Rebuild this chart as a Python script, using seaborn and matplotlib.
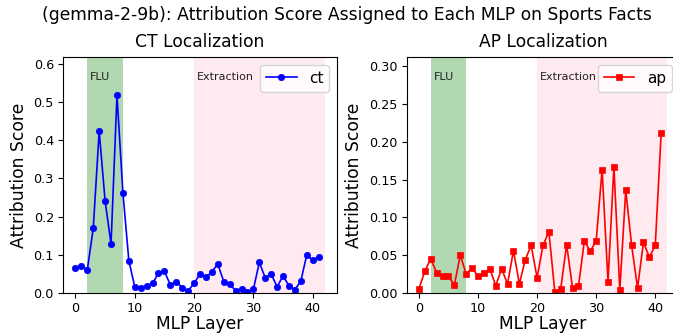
import matplotlib
matplotlib.use("Agg")
import matplotlib.pyplot as plt
import matplotlib.transforms as mtransforms
import seaborn as sns
import numpy as np
import pandas as pd

layers = list(range(42))
ct_scores = [0.065, 0.072, 0.061, 0.169, 0.424, 0.241, 0.128, 0.518, 0.263, 0.085,
             0.016, 0.014, 0.018, 0.025, 0.052, 0.057, 0.021, 0.030, 0.014, 0.006,
             0.025, 0.050, 0.041, 0.055, 0.076, 0.030, 0.024, 0.006, 0.010, 0.002,
             0.010, 0.080, 0.040, 0.050, 0.016, 0.045, 0.019, 0.009, 0.031, 0.100,
             0.086, 0.094]
ap_scores = [0.0053, 0.029, 0.045, 0.027, 0.022, 0.022, 0.0106, 0.050, 0.025, 0.033,
             0.022, 0.026, 0.032, 0.0097, 0.032, 0.012, 0.056, 0.012, 0.044, 0.063,
             0.020, 0.063, 0.081, 0.0013, 0.0053, 0.064, 0.0066, 0.0088, 0.069, 0.055,
             0.069, 0.163, 0.015, 0.167, 0.0035, 0.136, 0.063, 0.0066, 0.067, 0.0475,
             0.063, 0.212]
regions = [("FLU", 2, 8, "green"), ("Extraction", 20, 42, "pink")]
suptitle = "(gemma-2-9b): Attribution Score Assigned to Each MLP on Sports Facts"

df = pd.DataFrame({"layer": layers, "ct": ct_scores, "ap": ap_scores})

W, H = 673, 335
fig = plt.figure(figsize=(W / 100, H / 100), dpi=100)
ax1 = fig.add_axes([63 / W, 42 / H, 274 / W, 236 / H])
ax2 = fig.add_axes([406.5 / W, 42 / H, 273 / W, 236 / H])

panels = [
    (ax1, "ct", "blue", "o", "CT Localization", 0.618),
    (ax2, "ap", "red", "s", "AP Localization", 0.312),
]
for ax, col, color, marker, title, ytop in panels:
    for name, lo, hi, c in regions:
        ax.axvspan(lo, hi, color=c, alpha=0.3, lw=0)
        trans = mtransforms.blended_transform_factory(ax.transData, ax.transAxes)
        ax.text(lo + 0.5, 0.917, name, transform=trans, fontsize=8,
                va="center", ha="left", color="#222222")
    sns.lineplot(data=df, x="layer", y=col, ax=ax, color=color, marker=marker,
                 markersize=4.6 if marker == "o" else 4.2, markeredgecolor=color,
                 markeredgewidth=0.5, linewidth=1.2, label=col)
    ax.set_ylim(0, ytop)
    ax.set_title(title, fontsize=12.3, pad=7)
    ax.set_xlabel("MLP Layer", fontsize=12.3, labelpad=0)
    ax.set_ylabel("Attribution Score", fontsize=12.3, labelpad=4)
    ax.tick_params(labelsize=9.2, pad=3)
    ax.legend(loc="upper right", fontsize=11)

fig.suptitle(suptitle, fontsize=12.3, x=346.7 / W, y=1 - 15 / H, va="center")
fig.savefig("out.png", dpi=100)
